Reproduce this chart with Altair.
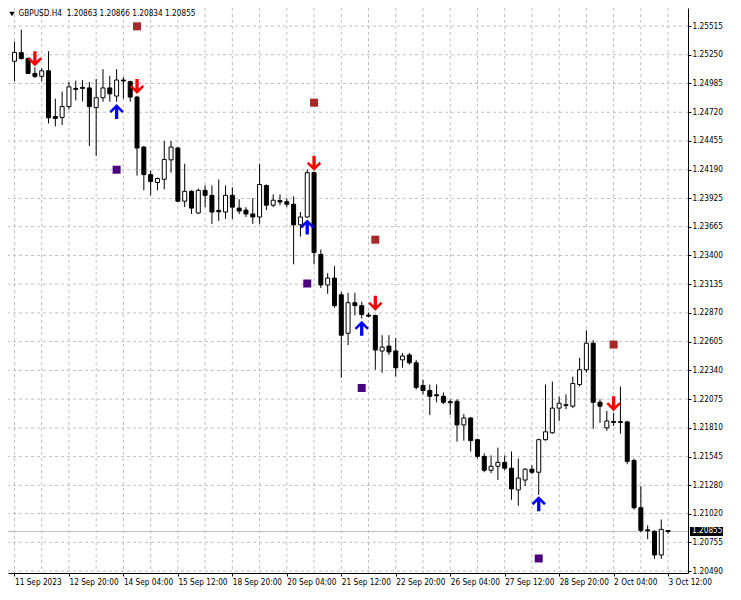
import altair as alt
import pandas as pd

# ---------------- data ----------------
x_tick_labels = ["11 Sep 2023", "12 Sep 20:00", "14 Sep 04:00", "15 Sep 12:00",
                 "18 Sep 20:00", "20 Sep 04:00", "21 Sep 12:00", "22 Sep 20:00",
                 "26 Sep 04:00", "27 Sep 12:00", "28 Sep 20:00", "2 Oct 04:00",
                 "3 Oct 12:00"]
y_ticks = [1.25515, 1.25250, 1.24985, 1.24720, 1.24455, 1.24190, 1.23925, 1.23665,
           1.23400, 1.23135, 1.22870, 1.22605, 1.22340, 1.22075, 1.21810, 1.21545,
           1.21280, 1.21020, 1.20755, 1.20490]

opens = [
    1.25190, 1.25269, 1.25214, 1.25078, 1.25051, 1.25102, 1.24681, 1.24672, 1.24772, 1.24940,
    1.24949, 1.24944, 1.24763, 1.24854, 1.24944, 1.24869, 1.25017, 1.25002, 1.24860, 1.24399,
    1.24145, 1.24072, 1.24102, 1.24281, 1.24390, 1.23900, 1.23991, 1.23791, 1.24000, 1.23954,
    1.23815, 1.23800, 1.23954, 1.23836, 1.23818, 1.23782, 1.23754, 1.24045, 1.23863, 1.23906,
    1.23895, 1.23872, 1.23682, 1.23754, 1.24163, 1.23409, 1.23127, 1.23191, 1.23037, 1.22682,
    1.22964, 1.22937, 1.22850, 1.22846, 1.22519, 1.22564, 1.22519, 1.22437, 1.22482, 1.22410,
    1.22201, 1.22155, 1.22115, 1.22101, 1.22051, 1.22055, 1.21837, 1.21901, 1.21701, 1.21547,
    1.21419, 1.21456, 1.21492, 1.21438, 1.21238, 1.21329, 1.21429, 1.21401, 1.21701, 1.21765,
    1.21992, 1.22015, 1.22010, 1.22210, 1.22346, 1.22591, 1.22046, 1.21810, 1.21869, 1.21860,
    1.21865, 1.21510, 1.21074, 1.20870, 1.20856, 1.20638, 1.20863]
highs = [
    1.25371, 1.25480, 1.25226, 1.25135, 1.25126, 1.25283, 1.24845, 1.24911, 1.24999, 1.25011,
    1.25017, 1.24999, 1.25026, 1.25117, 1.25056, 1.25117, 1.25044, 1.25011, 1.24872, 1.24408,
    1.24181, 1.24118, 1.24454, 1.24454, 1.24399, 1.24245, 1.24000, 1.24018, 1.24045, 1.24045,
    1.24100, 1.24045, 1.24027, 1.23918, 1.23845, 1.23927, 1.24245, 1.24054, 1.23963, 1.23963,
    1.23927, 1.23945, 1.23800, 1.24193, 1.24172, 1.23455, 1.23236, 1.23300, 1.23064, 1.23055,
    1.23055, 1.22973, 1.22873, 1.22855, 1.22664, 1.22664, 1.22637, 1.22501, 1.22501, 1.22437,
    1.22255, 1.22210, 1.22210, 1.22137, 1.22074, 1.22074, 1.21937, 1.21910, 1.21710, 1.21574,
    1.21556, 1.21628, 1.21556, 1.21592, 1.21528, 1.21438, 1.21465, 1.21710, 1.22210, 1.22237,
    1.22101, 1.22119, 1.22283, 1.22455, 1.22710, 1.22619, 1.22074, 1.21965, 1.21946, 1.22192,
    1.21874, 1.21528, 1.21274, 1.20911, 1.20865, 1.20965, 1.20866]
lows = [
    1.25008, 1.25208, 1.25072, 1.25035, 1.25008, 1.24617, 1.24590, 1.24602, 1.24745, 1.24829,
    1.24820, 1.24408, 1.24318, 1.24817, 1.24817, 1.24817, 1.24845, 1.24817, 1.24136, 1.24000,
    1.23954, 1.24000, 1.24009, 1.24163, 1.23891, 1.23845, 1.23782, 1.23782, 1.23845, 1.23691,
    1.23718, 1.23736, 1.23736, 1.23782, 1.23754, 1.23691, 1.23691, 1.23818, 1.23845, 1.23863,
    1.23845, 1.23318, 1.23573, 1.23745, 1.23318, 1.23100, 1.23046, 1.22918, 1.22273, 1.22573,
    1.22846, 1.22819, 1.22828, 1.22346, 1.22319, 1.22482, 1.22283, 1.22364, 1.22392, 1.22164,
    1.22119, 1.21928, 1.22046, 1.22028, 1.21928, 1.21683, 1.21692, 1.21592, 1.21528, 1.21401,
    1.21392, 1.21329, 1.21419, 1.21147, 1.21092, 1.21274, 1.21383, 1.21192, 1.21692, 1.21756,
    1.21874, 1.21983, 1.21992, 1.22192, 1.22319, 1.21801, 1.21856, 1.21783, 1.21828, 1.21756,
    1.21474, 1.21056, 1.20847, 1.20784, 1.20602, 1.20602, 1.20834]
closes = [
    1.25271, 1.25214, 1.25078, 1.25051, 1.25102, 1.24669, 1.24663, 1.24772, 1.24954, 1.24931,
    1.24940, 1.24772, 1.24854, 1.24944, 1.24890, 1.25017, 1.25008, 1.24860, 1.24390, 1.24145,
    1.24081, 1.24109, 1.24284, 1.24399, 1.23900, 1.23991, 1.23836, 1.24000, 1.23954, 1.23800,
    1.23802, 1.23954, 1.23845, 1.23809, 1.23782, 1.23754, 1.24054, 1.23863, 1.23909, 1.23893,
    1.23872, 1.23682, 1.23754, 1.24163, 1.23427, 1.23127, 1.23191, 1.22937, 1.22664, 1.22964,
    1.22937, 1.22855, 1.22840, 1.22528, 1.22555, 1.22510, 1.22364, 1.22473, 1.22410, 1.22183,
    1.22155, 1.22101, 1.22106, 1.22046, 1.22042, 1.21837, 1.21901, 1.21692, 1.21547, 1.21419,
    1.21456, 1.21492, 1.21438, 1.21247, 1.21347, 1.21429, 1.21401, 1.21701, 1.21774, 1.21992,
    1.22037, 1.22024, 1.22219, 1.22346, 1.22591, 1.22046, 1.22010, 1.21874, 1.21860, 1.21869,
    1.21501, 1.21074, 1.20865, 1.20861, 1.20638, 1.20874, 1.20855]

sell_arrow_bar = [3, 18, 44, 53, 88]
sell_arrow_price = [1.25212, 1.24958, 1.24249, 1.22959, 1.22033]
buy_arrow_bar = [15, 43, 51, 77]
buy_arrow_price = [1.24726, 1.23663, 1.22728, 1.21111]
brown_sq_bar = [18, 44, 53, 88]
brown_sq_price = [1.25512, 1.24808, 1.23545, 1.22578]
purple_sq_bar = [15, 43, 51, 77]
purple_sq_price = [1.24190, 1.23141, 1.22178, 1.20606]

last_price = 1.20855
header_text = "GBPUSD.H4\u00a0 1.20863 1.20866 1.20834 1.20855"

# ---------------- tables ----------------
n = len(opens)
candles = pd.DataFrame({
    "i": list(range(n)), "open": opens, "high": highs, "low": lows, "close": closes,
    "dir": ["up" if c >= o else "down" for o, c in zip(opens, closes)],
})
sell_df = pd.DataFrame({"i": sell_arrow_bar, "p": sell_arrow_price})
buy_df = pd.DataFrame({"i": buy_arrow_bar, "p": buy_arrow_price})
brown_df = pd.DataFrame({"i": brown_sq_bar, "p": brown_sq_price})
purple_df = pd.DataFrame({"i": purple_sq_bar, "p": purple_sq_price})
vgrid_df = pd.DataFrame({"i": list(range(0, n, 4))})
hgrid_df = pd.DataFrame({"p": y_ticks})
last_df = pd.DataFrame({"p": [last_price], "t": [f"{last_price:.5f}"]})
head_df = pd.DataFrame({"t": [header_text]})

# ---------------- layout ----------------
W, H = 680, 565
x_domain = [-0.217, 98.19]
y_domain = [1.20472, 1.25681]
FONT = "Tahoma, 'DejaVu Sans Condensed', 'Liberation Sans', sans-serif"
FS = 8.2
GRID = "#c0c0c0"

label_arr = "[" + ",".join(f"'{s}'" for s in x_tick_labels) + "]"
xscale = alt.Scale(domain=x_domain, nice=False, zero=False)
yscale = alt.Scale(domain=y_domain, nice=False, zero=False)
xaxis = alt.Axis(values=list(range(0, n, 8)), labelExpr=f"{label_arr}[round(datum.value/8)]",
                 labelAlign="left", labelFlush=False, labelOverlap=False, tickSize=3,
                 labelPadding=2, grid=False, domainColor="black", tickColor="black",
                 labelColor="black", labelFont=FONT, labelFontSize=FS, title=None)
yaxis = alt.Axis(orient="right", values=y_ticks, format=".5f", tickSize=3, labelPadding=1,
                 grid=False, domainColor="black", tickColor="black", labelColor="black",
                 labelFont=FONT, labelFontSize=FS, labelFlush=False, labelOverlap=False,
                 title=None)


def X(f):
    return alt.X(f"{f}:Q", scale=xscale, axis=xaxis)


def Y(f):
    return alt.Y(f"{f}:Q", scale=yscale, axis=yaxis)


DOWN = "M-0.22,-1L0.22,-1L0.22,0.3L0.72,-0.2L0.95,0.05L0,1L-0.95,0.05L-0.72,-0.2L-0.22,0.3Z"
UP = "M-0.22,1L0.22,1L0.22,-0.3L0.72,0.2L0.95,-0.05L0,-1L-0.95,-0.05L-0.72,0.2L-0.22,-0.3Z"
BOX = "M-1,-0.27L1,-0.27L1,0.27L-1,0.27Z"

vgrid = alt.Chart(vgrid_df).mark_rule(color=GRID, strokeDash=[3, 3], strokeWidth=1).encode(x=X("i"))
hgrid = alt.Chart(hgrid_df).mark_rule(color=GRID, strokeDash=[3, 3], strokeWidth=1).encode(y=Y("p"))
bidline = alt.Chart(last_df).mark_rule(color=GRID, strokeWidth=1).encode(y=Y("p"))

wicks = alt.Chart(candles).mark_rule(color="black", strokeWidth=1, opacity=1).encode(
    x=X("i"), y=Y("low"), y2=alt.Y2("high:Q"))
bodies = alt.Chart(candles).mark_bar(size=4, stroke="black", strokeWidth=1, opacity=1).encode(
    x=X("i"), y=Y("open"), y2=alt.Y2("close:Q"),
    fill=alt.Fill("dir:N", scale=alt.Scale(domain=["up", "down"], range=["white", "black"]), legend=None))

brown = alt.Chart(brown_df).mark_square(size=64, color="#a52a2a", opacity=1, strokeWidth=0).encode(
    x=X("i"), y=Y("p"))
purple = alt.Chart(purple_df).mark_square(size=64, color="#4b0082", opacity=1, strokeWidth=0).encode(
    x=X("i"), y=Y("p"))
sell = alt.Chart(sell_df).mark_point(shape=DOWN, size=225, filled=True, color="#ff0000",
                                     opacity=1, strokeWidth=0).encode(x=X("i"), y=Y("p"))
buy = alt.Chart(buy_df).mark_point(shape=UP, size=225, filled=True, color="#0000ff",
                                   opacity=1, strokeWidth=0).encode(x=X("i"), y=Y("p"))

box = alt.Chart(last_df).mark_point(shape=BOX, size=33 * 33, filled=True, color="black",
                                    opacity=1, strokeWidth=0).encode(
    x=alt.value(W + 18.5), y=Y("p"))
box_text = alt.Chart(last_df).mark_text(align="left", baseline="middle", color="white",
                                        font=FONT, fontSize=FS).encode(
    x=alt.value(W + 4), y=Y("p"), text="t:N")

head_tri = alt.Chart(head_df).mark_point(shape="triangle-down", size=30, filled=True,
                                         color="black", opacity=1, strokeWidth=0).encode(
    x=alt.value(4), y=alt.value(6))
head = alt.Chart(head_df).mark_text(align="left", baseline="middle", color="black",
                                    font=FONT, fontSize=FS).encode(
    x=alt.value(10.5), y=alt.value(6), text="t:N")

chart = alt.layer(vgrid, hgrid, bidline, wicks, bodies, brown, purple, sell, buy,
                  box, box_text, head_tri, head).properties(
    width=W, height=H, background="white",
    padding={"left": 0, "top": 0, "right": 35, "bottom": 17},
    autosize=alt.AutoSizeParams(type="none"),
).configure_view(strokeWidth=0)

chart.save("out.html", embed_options={"renderer": "svg", "actions": False})
